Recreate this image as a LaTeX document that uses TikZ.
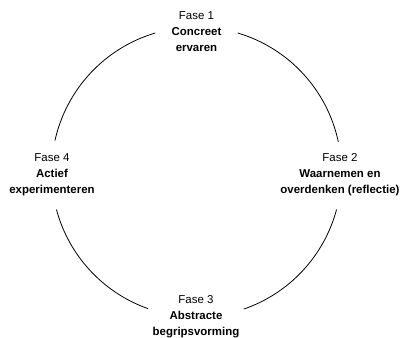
\documentclass[tikz,border=0pt]{standalone}
\usepackage{fontspec}
\setmainfont{Liberation Sans}
\usepackage{tikz}
\usetikzlibrary{calc}

\tikzset{
  fase/.style={align=center, inner sep=0pt, font=\fontsize{11.5}{16}\selectfont},
  cirkel/.style={black, line width=0.8bp}
}

\begin{document}
\begin{tikzpicture}[x=1bp,y=1bp]
    \useasboundingbox (0,0) rectangle (402,338);
    \coordinate (c) at (196.5,166);

    % Fases
    \node[fase] (f1) at (196.5,306) {Fase 1\\\textbf{Concreet}\\\textbf{ervaren}};
    \node[fase] (f2) at (340,163) {Fase 2\\\textbf{Waarnemen en}\\\textbf{overdenken (reflectie)}};
    \node[fase] (f3) at (196,21) {Fase 3\\\textbf{Abstracte}\\\textbf{begripsvorming}};
    \node[fase] (f4) at (52,163) {Fase 4\\\textbf{Actief}\\\textbf{experimenteren}};

    % Cirkel in vier bogen
    \coordinate (b1) at ($(c)+(73.5:145)$);
    \coordinate (b2) at ($(c)+(-15:145)$);
    \coordinate (b3) at ($(c)+(-109.5:145)$);
    \coordinate (b4) at ($(c)+(167.5:145)$);
    \draw[cirkel] (b1) arc[start angle=73.5, end angle=12, radius=145];
    \draw[cirkel] (b2) arc[start angle=-15, end angle=-71, radius=145];
    \draw[cirkel] (b3) arc[start angle=-109.5, end angle=-165, radius=145];
    \draw[cirkel] (b4) arc[start angle=167.5, end angle=106.5, radius=145];
\end{tikzpicture}
\end{document}
